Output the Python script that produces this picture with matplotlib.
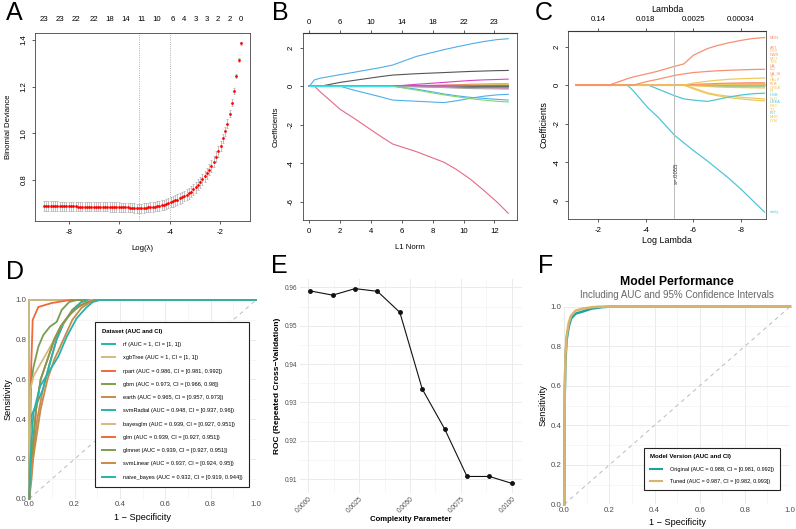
import numpy as np
import matplotlib.pyplot as plt
from matplotlib.lines import Line2D

plt.rcParams['font.family'] = ['Liberation Sans', 'DejaVu Sans']
plt.rcParams['axes.unicode_minus'] = False

# ---------------- data ----------------
# A: cv.glmnet deviance
loglam = [-9.00, -8.91, -8.82, -8.73, -8.64, -8.55, -8.46, -8.37, -8.28, -8.19,
          -8.10, -8.01, -7.92, -7.83, -7.74, -7.65, -7.56, -7.47, -7.38, -7.29,
          -7.20, -7.11, -7.02, -6.93, -6.84, -6.75, -6.66, -6.57, -6.48, -6.39,
          -6.30, -6.21, -6.12, -6.03, -5.94, -5.85, -5.76, -5.67, -5.58, -5.49,
          -5.40, -5.31, -5.22, -5.13, -5.04, -4.95, -4.86, -4.77, -4.68, -4.59,
          -4.50, -4.41, -4.32, -4.23, -4.14, -4.05, -3.96, -3.87, -3.78, -3.69,
          -3.60, -3.51, -3.42, -3.33, -3.24, -3.15, -3.06, -2.97, -2.88, -2.79,
          -2.70, -2.61, -2.52, -2.43, -2.34, -2.25, -2.16, -2.07, -1.98, -1.89,
          -1.80, -1.71, -1.62, -1.53, -1.44, -1.35, -1.26, -1.17]
deviance = [0.688, 0.688, 0.688, 0.688, 0.688, 0.688, 0.688, 0.687, 0.687, 0.687,
            0.687, 0.687, 0.687, 0.687, 0.687, 0.686, 0.686, 0.686, 0.686, 0.686,
            0.686, 0.686, 0.686, 0.686, 0.685, 0.685, 0.685, 0.685, 0.685, 0.684,
            0.684, 0.684, 0.684, 0.684, 0.683, 0.683, 0.682, 0.682, 0.681, 0.681,
            0.680, 0.679, 0.678, 0.679, 0.680, 0.681, 0.682, 0.683, 0.684, 0.686,
            0.688, 0.690, 0.692, 0.694, 0.697, 0.700, 0.704, 0.708, 0.712, 0.716,
            0.721, 0.726, 0.731, 0.737, 0.743, 0.750, 0.760, 0.769, 0.779, 0.790,
            0.802, 0.815, 0.829, 0.844, 0.860, 0.878, 0.899, 0.922, 0.945, 0.978,
            1.008, 1.042, 1.084, 1.131, 1.182, 1.245, 1.313, 1.385]
dev_se = [0.020, 0.020, 0.020, 0.020, 0.020, 0.020, 0.020, 0.020, 0.020, 0.020,
          0.020, 0.020, 0.020, 0.020, 0.020, 0.020, 0.020, 0.020, 0.020, 0.020,
          0.020, 0.020, 0.020, 0.020, 0.020, 0.020, 0.020, 0.020, 0.020, 0.020,
          0.020, 0.020, 0.020, 0.020, 0.020, 0.020, 0.020, 0.020, 0.020, 0.020,
          0.020, 0.020, 0.020, 0.020, 0.020, 0.020, 0.020, 0.021, 0.021, 0.021,
          0.021, 0.021, 0.021, 0.021, 0.022, 0.022, 0.022, 0.022, 0.022, 0.022,
          0.023, 0.023, 0.023, 0.023, 0.023, 0.024, 0.024, 0.024, 0.024, 0.024,
          0.024, 0.024, 0.024, 0.024, 0.024, 0.023, 0.023, 0.022, 0.021, 0.020,
          0.019, 0.018, 0.016, 0.014, 0.012, 0.010, 0.008, 0.006]
lam_min, lam_1se = -5.22, -4.0
top_pos = [-9.00, -8.37, -7.74, -7.02, -6.39, -5.76, -5.13, -4.50, -3.87, -3.42,
           -2.97, -2.52, -2.07, -1.62, -1.17]
top_nz = ['23', '23', '22', '22', '18', '14', '11', '10', '6', '4', '3', '3', '2', '2', '0']

# B / C: lasso coefficient paths at log(lambda) knots
knots = [-1.05, -2.45, -3.22, -3.47, -4.1, -4.5, -5.2, -5.6, -6.0, -6.6, -7.0, -7.5, -8.0, -8.5, -9.0]
var_names = ['MON', 'AST', 'LMR', 'NWR', 'MCT', 'TVS', 'UA', 'LCI', 'UA_SI', 'TT', 'HALP',
             'PLR', 'CREA', 'BI', 'HGB', 'NLR', 'UREA', 'RBC', 'TG', 'PLT', 'MHR', 'LYM', 'rately']
coefs = [
    [0, 0, 0.33, 0.42, 0.6, 0.72, 0.97, 1.1, 1.55, 1.9, 2.05, 2.2, 2.32, 2.42, 2.47],
    [0, 0, 0, 0, 0.2, 0.3, 0.5, 0.58, 0.65, 0.71, 0.74, 0.77, 0.79, 0.81, 0.82],
    [0, 0, 0, 0, 0, 0, 0, 0, 0.1, 0.2, 0.25, 0.3, 0.33, 0.35, 0.37],
    [0, 0, 0, 0, 0, 0, 0, 0, 0.03, 0.06, 0.08, 0.1, 0.11, 0.12, 0.12],
    [0, 0, 0, 0, 0, 0, 0, 0, 0.02, 0.04, 0.05, 0.06, 0.07, 0.08, 0.08],
    [0, 0, 0, 0, 0, 0, 0, 0, 0, 0.02, 0.03, 0.04, 0.045, 0.05, 0.05],
    [0, 0, 0, 0, 0, 0, 0, 0, 0, 0.01, 0.015, 0.02, 0.025, 0.03, 0.03],
    [0, 0, 0, 0, 0, 0, 0, 0, 0, 0, 0.005, 0.01, 0.015, 0.02, 0.02],
    [0, 0, 0, 0, 0, 0, 0, 0, 0, 0, 0.003, 0.005, 0.008, 0.01, 0.01],
    [0, 0, 0, 0, 0, 0, 0, 0, 0, 0, 0, 0.002, 0.003, 0.005, 0.005],
    [0, 0, 0, 0, 0, 0, 0, 0, 0, 0, 0, 0, 0, 0, 0],
    [0, 0, 0, 0, 0, 0, 0, 0, 0, 0, 0, -0.001, -0.002, -0.002, -0.002],
    [0, 0, 0, 0, 0, 0, 0, 0, 0, 0, 0, -0.002, -0.003, -0.004, -0.005],
    [0, 0, 0, 0, 0, 0, 0, 0, 0, 0, -0.003, -0.005, -0.007, -0.009, -0.01],
    [0, 0, 0, 0, 0, 0, 0, 0, 0, -0.005, -0.01, -0.015, -0.018, -0.02, -0.02],
    [0, 0, 0, 0, 0, 0, 0, 0, -0.005, -0.01, -0.015, -0.02, -0.025, -0.03, -0.03],
    [0, 0, 0, 0, 0, 0, 0, 0, -0.01, -0.02, -0.03, -0.04, -0.045, -0.05, -0.05],
    [0, 0, 0, 0, 0, 0, 0, 0, -0.02, -0.04, -0.06, -0.07, -0.08, -0.09, -0.1],
    [0, 0, 0, 0, 0, 0, 0, 0, -0.03, -0.07, -0.1, -0.12, -0.13, -0.14, -0.15],
    [0, 0, 0, 0, 0, -0.2, -0.55, -0.72, -0.78, -0.85, -0.75, -0.62, -0.52, -0.45, -0.42],
    [0, 0, 0, 0, 0, 0, 0, 0, -0.15, -0.4, -0.5, -0.58, -0.63, -0.68, -0.72],
    [0, 0, 0, 0, 0, 0, 0, 0, -0.2, -0.45, -0.55, -0.65, -0.72, -0.78, -0.82],
    [0, 0, 0, -0.3, -1.2, -1.65, -2.6, -3.0, -3.4, -3.95, -4.35, -4.85, -5.4, -6.0, -6.6],
]
b_top_lab = ['0', '6', '10', '14', '18', '22', '23']
c_top_lab = ['0.14', '0.018', '0.0025', '0.00034']

# D: ROC curves for the 11 models
models = ['rf', 'xgbTree', 'rpart', 'gbm', 'earth', 'svmRadial', 'bayesglm', 'glm',
          'glmnet', 'svmLinear', 'naive_bayes']
aucs = ['1', '1', '0.986', '0.973', '0.965', '0.948', '0.939', '0.939', '0.939', '0.937', '0.932']
ci_lo = ['1', '1', '0.981', '0.966', '0.957', '0.937', '0.927', '0.927', '0.927', '0.924', '0.919']
ci_hi = ['1', '1', '0.992', '0.98', '0.973', '0.96', '0.951', '0.951', '0.951', '0.95', '0.944']
roc_fpr = [
    [0, 0, 1],
    [0, 0, 1],
    [0, 0.004, 0.008, 0.015, 0.04, 0.1, 0.18, 1],
    [0, 0.003, 0.006, 0.018, 0.04, 0.062, 0.091, 0.121, 0.143, 0.176, 0.21, 1],
    [0, 0.01, 0.02, 0.035, 0.06, 0.09, 0.12, 0.15, 0.19, 0.23, 0.26, 1],
    [0, 0.003, 0.01, 0.03, 0.06, 0.09, 0.12, 0.15, 0.19, 0.23, 0.27, 1],
    [0, 0.004, 0.02, 0.04, 0.07, 0.1, 0.13, 0.16, 0.2, 0.24, 0.27, 1],
    [0, 0.01, 0.03, 0.05, 0.08, 0.11, 0.14, 0.18, 0.22, 0.26, 0.29, 1],
    [0, 0.01, 0.03, 0.05, 0.08, 0.11, 0.14, 0.18, 0.22, 0.26, 0.29, 1],
    [0, 0.01, 0.03, 0.05, 0.08, 0.11, 0.15, 0.19, 0.23, 0.27, 0.3, 1],
    [0, 0.005, 0.018, 0.047, 0.091, 0.128, 0.165, 0.209, 0.25, 0.28, 0.312, 1],
]
roc_tpr = [
    [0, 1, 1],
    [0, 1, 1],
    [0, 0.4, 0.65, 0.9, 0.965, 0.985, 1, 1],
    [0, 0.3, 0.56, 0.66, 0.765, 0.824, 0.866, 0.89, 0.95, 0.99, 1, 1],
    [0, 0.1, 0.25, 0.4, 0.55, 0.68, 0.8, 0.88, 0.95, 0.99, 1, 1],
    [0, 0.3, 0.42, 0.47, 0.55, 0.68, 0.8, 0.88, 0.95, 0.99, 1, 1],
    [0, 0.55, 0.62, 0.66, 0.72, 0.78, 0.85, 0.9, 0.95, 0.98, 1, 1],
    [0, 0.2, 0.45, 0.6, 0.7, 0.8, 0.87, 0.93, 0.97, 0.99, 1, 1],
    [0, 0.2, 0.45, 0.6, 0.7, 0.8, 0.87, 0.93, 0.97, 0.99, 1, 1],
    [0, 0.15, 0.3, 0.45, 0.6, 0.7, 0.8, 0.9, 0.96, 0.99, 1, 1],
    [0, 0.2, 0.43, 0.564, 0.648, 0.715, 0.815, 0.908, 0.96, 0.99, 1, 1],
]

# E: rpart tuning
cp = [0.0001, 0.0012, 0.0023, 0.0034, 0.0045, 0.0056, 0.0067, 0.0078, 0.0089, 0.0100]
cv_roc = [0.9591, 0.9580, 0.9597, 0.9590, 0.9535, 0.9335, 0.9231, 0.9107, 0.9107, 0.9089]

# F: original vs tuned
versions = ['Original', 'Tuned']
ver_auc = ['0.988', '0.987']
ver_lo = ['0.981', '0.982']
ver_hi = ['0.992', '0.993']
ver_fpr = [[0, 0.002, 0.005, 0.01, 0.02, 0.03, 0.05, 0.08, 0.12, 0.17, 0.2, 1],
           [0, 0.002, 0.005, 0.01, 0.02, 0.03, 0.05, 0.08, 0.12, 0.15, 1]]
ver_tpr = [[0, 0.55, 0.72, 0.83, 0.9, 0.94, 0.965, 0.975, 0.99, 0.998, 1, 1],
           [0, 0.58, 0.75, 0.85, 0.92, 0.955, 0.98, 0.99, 0.997, 1, 1]]

# ---------------- styles ----------------
RBLUE, RPINK, RGREEN, RCYAN, RMAG, RYEL, RGRAY = ('#4FAEE9', '#E56A82', '#7ED86E',
                                                  '#3FE3E6', '#D542C6', '#F5CB30', '#A8A8A8')
b_cols = [RBLUE, '#555555', RMAG, RPINK, RYEL, RGRAY, RGREEN,
          RCYAN, RMAG, '#222222', RYEL, RPINK, RGRAY, RBLUE,
          RGREEN, '#222222', RGRAY, RMAG, RGRAY, RBLUE, RBLUE,
          RGREEN, RPINK]
SAL, GOLD, CYAN = '#F79072', '#EEC95E', '#4FC6D6'
c_cols = [SAL, SAL, GOLD, SAL, GOLD, GOLD, SAL, SAL, SAL, GOLD, GOLD, SAL, GOLD, GOLD,
          CYAN, GOLD, CYAN, GOLD, GOLD, CYAN, GOLD, GOLD, CYAN]
TEAL, KHAKI, ORED, OLIVE, BROWN = '#27B3AC', '#D6B97C', '#EE6A3B', '#7E9C50', '#C98A4B'
d_cols = [TEAL, KHAKI, ORED, OLIVE, BROWN, TEAL, KHAKI, ORED, OLIVE, BROWN, TEAL]

W, H = 796, 529
fig = plt.figure(figsize=(W / 100, H / 100), dpi=100)


def px_axes(l, t, r, b):
    return fig.add_axes([l / W, 1 - b / H, (r - l) / W, (b - t) / H])


def r_style(ax, fs=5.6):
    for s in ax.spines.values():
        s.set_linewidth(0.6)
        s.set_color('#444444')
    ax.tick_params(direction='out', length=2.5, width=0.6, labelsize=fs, pad=3,
                   color='#444444')
    ax.tick_params(axis='y', labelrotation=90)
    for lab in ax.get_yticklabels():
        lab.set_va('center')


def gg_style(ax, fs=5.7):
    for s in ax.spines.values():
        s.set_visible(False)
    ax.grid(which='major', color='#EBEBEB', lw=0.7)
    ax.grid(which='minor', color='#F3F3F3', lw=0.5)
    ax.set_axisbelow(True)
    ax.tick_params(which='both', length=0, labelsize=fs, labelcolor='#4D4D4D', pad=2)


# ---------------- A ----------------
axA = px_axes(35, 33, 250, 221)
axA.errorbar(loglam, deviance, yerr=dev_se, fmt='none', ecolor='#AAAAAA',
             elinewidth=0.5, capsize=1.0, capthick=0.5)
axA.plot(loglam, deviance, 'o', color='red', ms=2.0, mew=0)
axA.axvline(lam_min, ls=':', color='#999999', lw=0.6)
axA.axvline(lam_1se, ls=':', color='#999999', lw=0.6)
axA.set_xlim(-9.35, -0.81)
axA.set_ylim(0.624, 1.43)
axA.set_xticks([-8, -6, -4, -2])
axA.set_yticks([0.8, 1.0, 1.2, 1.4], ['0.8', '1.0', '1.2', '1.4'])
r_style(axA)
axA.set_xlabel('Log(λ)', fontsize=5.6, labelpad=7)
axA.set_ylabel('Binomial Deviance', fontsize=5.6, labelpad=6)
secA = axA.secondary_xaxis('top')
secA.set_xticks(top_pos, top_nz)
secA.tick_params(length=0, labelsize=5.6, pad=7)
secA.spines['top'].set_visible(False)

# ---------------- B ----------------
axB = px_axes(302.7, 33.3, 516.7, 220)
coef_arr = np.array(coefs)
l1 = np.abs(coef_arr).sum(axis=0)
order_b = list(range(len(var_names)))
order_b.remove(10)
order_b.insert(0, 10)
for i in order_b:
    axB.plot(l1, coef_arr[i], color=b_cols[i], lw=0.8)
axB.plot(l1[:8], coef_arr[14][:8], color=RCYAN, lw=0.9)
axB.set_xlim(-0.43, 13.45)
axB.set_ylim(-6.95, 2.75)
axB.set_xticks([0, 2, 4, 6, 8, 10, 12])
axB.set_yticks([-6, -4, -2, 0, 2])
r_style(axB)
axB.set_xlabel('L1 Norm', fontsize=5.6, labelpad=7)
axB.set_ylabel('Coefficients', fontsize=5.6, labelpad=6)
secB = axB.secondary_xaxis('top')
secB.set_xticks([0, 2, 4, 6, 8, 10, 12], b_top_lab)
secB.tick_params(direction='out', length=2.5, width=0.6, labelsize=5.6, pad=3,
                 color='#444444')

# ---------------- C ----------------
axC = px_axes(568.3, 31, 765.7, 219)
for i in reversed(range(len(var_names))):
    axC.plot(knots, coef_arr[i], color=c_cols[i], lw=0.9)
axC.axvline(lam_min + 0.02, color='#BBBBBB', lw=0.7)
axC.text(lam_min - 0.08, -4.56, 's=.0055', rotation=90, fontsize=4.3,
         ha='center', va='center', color='#333333')
axC.set_xlim(-0.73, -9.05)
axC.set_ylim(-6.96, 2.81)
axC.set_xticks([-2, -4, -6, -8])
axC.set_yticks([-6, -4, -2, 0, 2])
r_style(axC)
axC.set_xlabel('Log Lambda', fontsize=6.4, labelpad=2)
axC.set_ylabel('Coefficients', fontsize=6.4, labelpad=4)
secC = axC.secondary_xaxis('top')
secC.set_xticks([-2, -4, -6, -8], c_top_lab)
secC.tick_params(direction='out', length=2.5, width=0.6, labelsize=5.6, pad=3,
                 color='#444444')
secC.set_xlabel('Lambda', fontsize=6.4, labelpad=3)
trC = axC.get_yaxis_transform()
axC.text(1.02, coef_arr[0][-1], var_names[0], transform=trC, fontsize=2.8,
         color=c_cols[0], va='center')
for k in range(1, 22):
    axC.text(1.02, 1.95 - 0.19 * (k - 1), var_names[k], transform=trC, fontsize=2.8,
             color=c_cols[k], va='center')
axC.text(1.02, coef_arr[22][-1], var_names[22], transform=trC, fontsize=2.8,
         color=c_cols[22], va='center')

# ---------------- D ----------------
axD = px_axes(29.3, 300, 256, 498.7)
axD.plot([0, 1], [0, 1], ls=(0, (4, 4)), color='#BBBBBB', lw=0.7)
handles = []
for i, m in enumerate(models):
    axD.plot(roc_fpr[i], roc_tpr[i], color=d_cols[i], lw=1.3, clip_on=False,
             solid_joinstyle='miter')
    handles.append(Line2D([], [], color=d_cols[i], lw=1.4,
                          label=f'{m} (AUC = {aucs[i]}, CI = [{ci_lo[i]}, {ci_hi[i]}])'))
axD.set_xlim(0, 1)
axD.set_ylim(0, 1)
ticks = [0, 0.2, 0.4, 0.6, 0.8, 1.0]
tlab = ['0.0', '0.2', '0.4', '0.6', '0.8', '1.0']
axD.set_xticks(ticks, tlab)
axD.set_yticks(ticks, tlab)
axD.set_xticks([0.1, 0.3, 0.5, 0.7, 0.9], minor=True)
axD.set_yticks([0.1, 0.3, 0.5, 0.7, 0.9], minor=True)
gg_style(axD)
axD.set_xlabel('1 − Specificity', fontsize=6.6, labelpad=3)
axD.set_ylabel('Sensitivity', fontsize=6.6, labelpad=2)
legD = axD.legend(handles=handles, title='Dataset (AUC and CI)', loc='lower left',
                  bbox_to_anchor=(0.278, 0.047), fontsize=4.1, handlelength=2.2,
                  labelspacing=1.45, borderpad=1.2, handletextpad=1.4,
                  title_fontproperties={'weight': 'bold', 'size': 4.3},
                  alignment='left', fancybox=False, edgecolor='#222222', framealpha=1)
legD.get_frame().set_linewidth(0.8)

# ---------------- E ----------------
axE = px_axes(300.2, 278.9, 521.9, 493.1)
axE.plot(cp, cv_roc, '-o', color='#111111', lw=0.8, ms=2.5)
axE.set_xlim(-0.000395, 0.010495)
axE.set_ylim(0.90636, 0.96224)
axE.set_xticks([0, 0.0025, 0.005, 0.0075, 0.01],
               ['0.0000', '0.0025', '0.0050', '0.0075', '0.0100'])
axE.set_xticks([0.00125, 0.00375, 0.00625, 0.00875], minor=True)
axE.set_yticks([0.91, 0.92, 0.93, 0.94, 0.95, 0.96],
               ['0.91', '0.92', '0.93', '0.94', '0.95', '0.96'])
axE.set_yticks([0.915, 0.925, 0.935, 0.945, 0.955], minor=True)
gg_style(axE, fs=4.7)
for lab in axE.get_xticklabels():
    lab.set_rotation(45)
    lab.set_ha('right')
    lab.set_rotation_mode('anchor')
axE.set_xlabel('Complexity Parameter', fontsize=5.6, fontweight='bold', labelpad=1)
axE.set_ylabel('ROC (Repeated Cross−Validation)', fontsize=6.0, fontweight='bold',
               labelpad=3)

# ---------------- F ----------------
axF = px_axes(564.3, 306.7, 790, 504.3)
axF.plot([0, 1], [0, 1], ls=(0, (4, 4)), color='#BBBBBB', lw=0.7)
f_cols = ['#1FA39D', '#D8B46C']
hF = []
for i, v in enumerate(versions):
    axF.plot(ver_fpr[i], ver_tpr[i], color=f_cols[i], lw=1.8, clip_on=False)
    hF.append(Line2D([], [], color=f_cols[i], lw=1.5,
                     label=f'{v} (AUC = {ver_auc[i]}, CI = [{ver_lo[i]}, {ver_hi[i]}])'))
axF.set_xlim(0, 1)
axF.set_ylim(0, 1)
axF.set_xticks(ticks, tlab)
axF.set_yticks(ticks, tlab)
axF.set_xticks([0.1, 0.3, 0.5, 0.7, 0.9], minor=True)
axF.set_yticks([0.1, 0.3, 0.5, 0.7, 0.9], minor=True)
gg_style(axF)
axF.set_xlabel('1 − Specificity', fontsize=6.6, labelpad=3)
axF.set_ylabel('Sensitivity', fontsize=6.6, labelpad=2)
legF = axF.legend(handles=hF, title='Model Version (AUC and CI)', loc='lower left',
                  bbox_to_anchor=(0.339, 0.056), fontsize=4.0, handlelength=2.2,
                  labelspacing=1.35, borderpad=1.15, handletextpad=1.4,
                  title_fontproperties={'weight': 'bold', 'size': 4.4},
                  alignment='left', fancybox=False, edgecolor='#222222', framealpha=1)
legF.get_frame().set_linewidth(0.8)
fig.text(677 / W, 1 - 281.7 / H, 'Model Performance', fontsize=8.8, fontweight='bold',
         ha='center', va='center')
fig.text(677 / W, 1 - 294.5 / H, 'Including AUC and 95% Confidence Intervals',
         fontsize=7.0, color='#666666', ha='center', va='center')

# panel letters
for lab, x, y in [('A', 6, 13), ('B', 272, 13), ('C', 535, 13),
                  ('D', 6, 272), ('E', 271, 266), ('F', 538, 266)]:
    fig.text(x / W, 1 - y / H, lab, fontsize=18, ha='left', va='center')

fig.savefig('out.png', dpi=100)
